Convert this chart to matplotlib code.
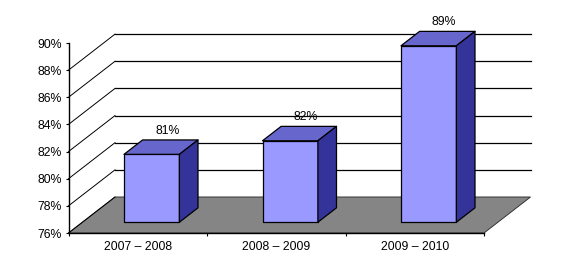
import matplotlib
matplotlib.use("Agg")
import matplotlib.pyplot as plt
from matplotlib.patches import Polygon

categories = ["2007 – 2008", "2008 – 2009", "2009 – 2010"]
values = [81, 82, 89]
value_labels = ["81%", "82%", "89%"]
ticks = [76, 78, 80, 82, 84, 86, 88, 90]
tick_labels = ["76%", "78%", "80%", "82%", "84%", "86%", "88%", "90%"]

W, H = 568, 266
plt.rcParams['font.family'] = ['Liberation Sans', 'DejaVu Sans']
fig = plt.figure(figsize=(W / 100, H / 100), dpi=100, facecolor='white')
L, R, B, T = 68.5, 484.0, 233.0, 43.0
ax = fig.add_axes([L / W, 1 - B / H, (R - L) / W, (B - T) / H])
ax.set_xlim(0, len(categories))
ax.set_ylim(76, 90)
ax.patch.set_visible(False)

ux = len(categories) / (R - L)
uy = 14 / (B - T)
DX, DY = 46.5 * ux, 36 * uy


def pt(x, y, d=0.0):
    return (x + d * DX, y + d * DY)


lw = 0.9
base = ticks[0]
n = len(categories)

# floor
ax.add_patch(Polygon([pt(0, base), pt(n, base), pt(n, base, 1), pt(0, base, 1)],
                     closed=True, fc='#858585', ec='#333333', lw=0.7, zorder=1, clip_on=False))

# gridlines and wall diagonals
for t in ticks[:-1]:
    if t != base:
        ax.plot(*zip(pt(0, t, 1), pt(n, t, 1)), color='black', lw=lw, zorder=1.5, clip_on=False)
    ax.plot(*zip(pt(0, t, 0), pt(0, t, 1)), color='black', lw=0.7, zorder=1.5, clip_on=False)

# bars
bw = 0.4
d0, d1 = 0.3, 0.7
for i, v in enumerate(values):
    x0, x1 = i + 0.5 - bw / 2, i + 0.5 + bw / 2
    kw = dict(closed=True, ec='black', lw=0.9, joinstyle='round', clip_on=False, zorder=3)
    ax.add_patch(Polygon([pt(x0, base, d0), pt(x1, base, d0), pt(x1, v, d0), pt(x0, v, d0)], fc='#9999FF', **kw))
    ax.add_patch(Polygon([pt(x0, v, d0), pt(x1, v, d0), pt(x1, v, d1), pt(x0, v, d1)], fc='#6666CC', **kw))
    ax.add_patch(Polygon([pt(x1, base, d0), pt(x1, base, d1), pt(x1, v, d1), pt(x1, v, d0)], fc='#333399', **kw))
    ax.annotate(value_labels[i], xy=pt(i + 0.5, v, d0), xytext=(15.5 * 0.72, 23.5 * 0.72),
                textcoords='offset points', ha='center', va='center',
                fontsize=8.8, color='black', annotation_clip=False, zorder=4)

for s in ('top', 'right'):
    ax.spines[s].set_visible(False)
for s in ('left', 'bottom'):
    ax.spines[s].set_linewidth(1.0)
    ax.spines[s].set_zorder(2)

ax.set_yticks(ticks)
ax.set_yticklabels(tick_labels, fontsize=8.8)
ax.tick_params(axis='y', length=2, width=0.8, pad=2.5)
ax.set_xticks(range(n + 1))
ax.set_xticklabels([""] * (n + 1))
ax.tick_params(axis='x', length=2.5, width=0.8)
for i, c in enumerate(categories):
    ax.annotate(c, xy=(i + 0.5, base), xytext=(0, -13.5 * 0.72), textcoords='offset points',
                ha='center', va='center', fontsize=8.8, annotation_clip=False)

fig.savefig('out.png', dpi=100, facecolor='white')
